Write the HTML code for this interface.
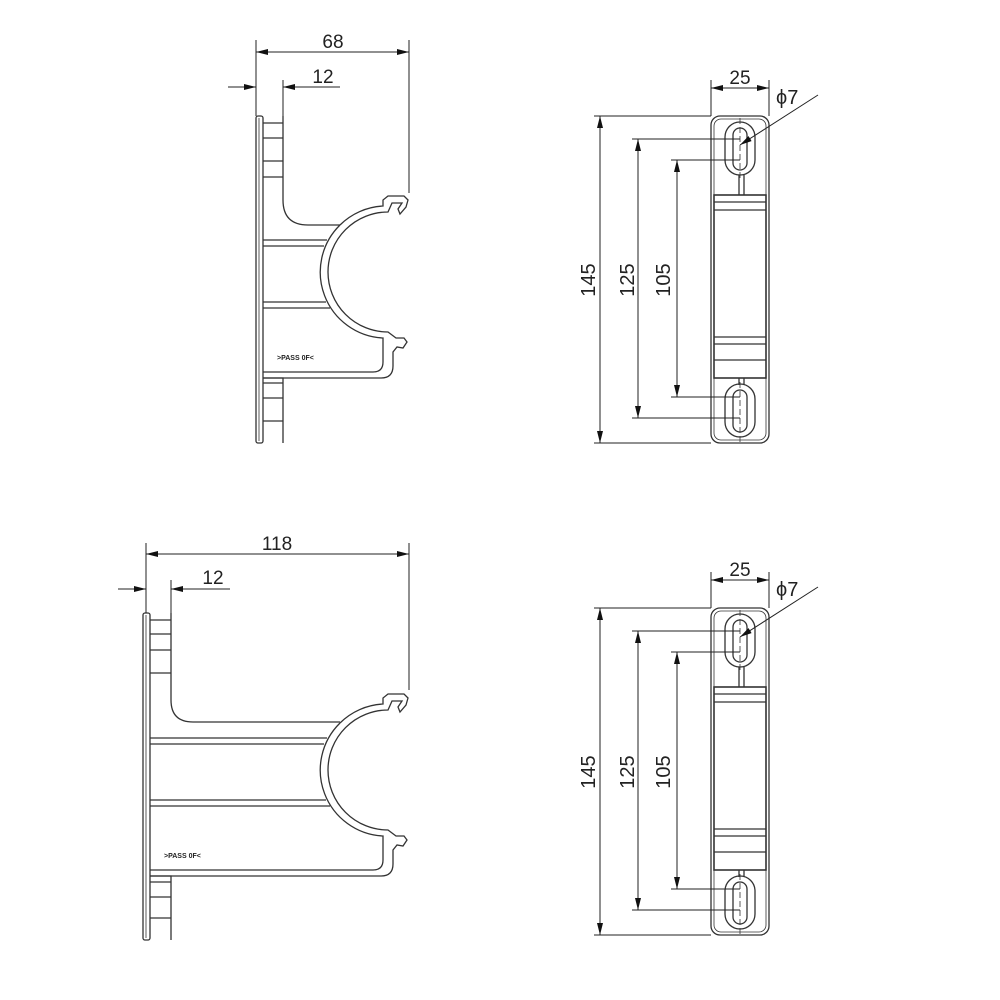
<!DOCTYPE html>
<html><head><meta charset="utf-8"><style>
html,body{margin:0;padding:0;background:#fff;}
svg{display:block;}
text{font-family:"Liberation Sans",sans-serif;fill:#222;}
</style></head><body>
<svg width="1000" height="1000" viewBox="0 0 1000 1000" xmlns="http://www.w3.org/2000/svg">
<defs>
<marker id="a" viewBox="0 0 12 6" refX="12" refY="3" markerWidth="12" markerHeight="6" markerUnits="userSpaceOnUse" orient="auto-start-reverse"><path d="M0,0 L12,3 L0,6 z" fill="#111"/></marker>
<g id="arc" fill="none" stroke="#333" stroke-width="1.3">
<path d="M-45,-47 A66 66 0 0 1 -2,-66 L-2,-72 L3,-76 L19,-76 L23,-72 L21,-65 L15,-58 L13,-63 L17,-69 L7,-69 L3,-60 A60 60 0 0 0 3,60 L11,66 L19,66 L22,70 L18,76 L12,75 L8,80 L8,94 Q8,106 -4,106"/>
<path d="M-45,-47 A66 66 0 0 0 -2,66 L-2,90 Q-2,100 -12,100"/>
</g>
<g id="side" fill="none" stroke="#333" stroke-width="1.3">
<rect x="711" y="116" width="58" height="327" rx="9"/>
<rect x="714" y="119" width="52" height="321" rx="7" stroke-width="0.8"/>
<rect x="725" y="122" width="30" height="53" rx="15"/>
<rect x="733" y="128" width="14" height="42" rx="7"/>
<path d="M739,175 V195 M744,175 V195"/>
<rect x="714" y="195" width="52" height="183" stroke-width="1.6"/>
<path d="M714,202 H766 M714,210 H766 M714,337 H766 M714,344 H766 M714,360 H766"/>
<path d="M739,378 V385 M744,378 V385"/>
<rect x="725" y="384" width="30" height="53" rx="15"/>
<rect x="733" y="390" width="14" height="42" rx="7"/>
<path d="M740,118 V180 M740,382 V442" stroke-dasharray="6,3" stroke-width="0.8"/>
</g>
</defs>

<!-- TOP LEFT BRACKET -->
<g fill="none" stroke="#333" stroke-width="1.3">
<rect x="256" y="116" width="7" height="327" rx="2"/>
<line x1="259" y1="118" x2="259" y2="441" stroke-width="0.8"/>
<path d="M263,123 H283 M263,138 H283 M263,161 H283 M263,177 H283"/>
<path d="M283,116 V200 Q283,225 308,225 L340,225"/>
<path d="M263,240 H327 M263,246 H324 M263,302 H326 M263,308 H330"/>
<path d="M263,372 H373 M263,378 H381"/>
<path d="M263,378 H283 V443 M263,383 H283 M263,398 H283 M263,421 H283"/>
</g>
<use href="#arc" x="385" y="272"/>
<text x="277" y="360" font-size="7" font-weight="bold">&gt;PASS 0F&lt;</text>

<!-- top left dims -->
<g stroke="#222" stroke-width="1" fill="none">
<path d="M256,40 V116 M409,40 V193 M283,80 V116"/>
<line x1="256" y1="52" x2="409" y2="52" marker-start="url(#a)" marker-end="url(#a)"/>
<line x1="228" y1="87" x2="256" y2="87" marker-end="url(#a)"/>
<line x1="340" y1="87" x2="283" y2="87" marker-end="url(#a)"/>
</g>
<text x="333" y="48" font-size="19" text-anchor="middle">68</text>
<text x="323" y="83" font-size="19" text-anchor="middle">12</text>

<!-- BOTTOM LEFT BRACKET -->
<g fill="none" stroke="#333" stroke-width="1.3">
<rect x="143" y="613" width="7" height="327" rx="2"/>
<line x1="146" y1="615" x2="146" y2="938" stroke-width="0.8"/>
<path d="M150,620 H171 M150,634 H171 M150,650 H171 M150,673 H171"/>
<path d="M171,613 V700 Q171,722 193,722 L340,722"/>
<path d="M150,738 H327 M150,744 H324 M150,800 H326 M150,806 H330"/>
<path d="M150,870 H373 M150,876 H381"/>
<path d="M150,876 H171 V940 M150,882 H171 M150,897 H171 M150,918 H171"/>
</g>
<use href="#arc" x="385" y="770"/>
<text x="164" y="858" font-size="7" font-weight="bold">&gt;PASS 0F&lt;</text>

<g stroke="#222" stroke-width="1" fill="none">
<path d="M146,543 V613 M409,543 V690 M171,580 V613"/>
<line x1="146" y1="554" x2="409" y2="554" marker-start="url(#a)" marker-end="url(#a)"/>
<line x1="118" y1="589" x2="146" y2="589" marker-end="url(#a)"/>
<line x1="230" y1="589" x2="171" y2="589" marker-end="url(#a)"/>
</g>
<text x="277" y="550" font-size="19" text-anchor="middle">118</text>
<text x="213" y="584" font-size="19" text-anchor="middle">12</text>

<!-- RIGHT VIEWS -->
<use href="#side"/>
<use href="#side" y="492"/>

<g id="rd" stroke="#222" stroke-width="1" fill="none">
<path d="M594,116 H711 M594,443 H711 M632,139 H740 M632,418 H740 M671,160 H740 M671,397 H740"/>
<line x1="600" y1="116" x2="600" y2="443" marker-start="url(#a)" marker-end="url(#a)"/>
<line x1="638" y1="139" x2="638" y2="418" marker-start="url(#a)" marker-end="url(#a)"/>
<line x1="677" y1="160" x2="677" y2="397" marker-start="url(#a)" marker-end="url(#a)"/>
<path d="M711,80 V116 M769,80 V116"/>
<line x1="711" y1="88" x2="769" y2="88" marker-start="url(#a)" marker-end="url(#a)"/>
<line x1="818" y1="95" x2="740" y2="145" marker-end="url(#a)"/>
</g>
<text x="740" y="84" font-size="19" text-anchor="middle">25</text>
<text x="776" y="104" font-size="20">ϕ7</text>
<text transform="translate(595,280) rotate(-90)" font-size="20" text-anchor="middle">145</text>
<text transform="translate(634,280) rotate(-90)" font-size="20" text-anchor="middle">125</text>
<text transform="translate(670,280) rotate(-90)" font-size="20" text-anchor="middle">105</text>

<g transform="translate(0,492)">
<g stroke="#222" stroke-width="1" fill="none">
<path d="M594,116 H711 M594,443 H711 M632,139 H740 M632,418 H740 M671,160 H740 M671,397 H740"/>
<line x1="600" y1="116" x2="600" y2="443" marker-start="url(#a)" marker-end="url(#a)"/>
<line x1="638" y1="139" x2="638" y2="418" marker-start="url(#a)" marker-end="url(#a)"/>
<line x1="677" y1="160" x2="677" y2="397" marker-start="url(#a)" marker-end="url(#a)"/>
<path d="M711,80 V116 M769,80 V116"/>
<line x1="711" y1="88" x2="769" y2="88" marker-start="url(#a)" marker-end="url(#a)"/>
<line x1="818" y1="95" x2="740" y2="145" marker-end="url(#a)"/>
</g>
<text x="740" y="84" font-size="19" text-anchor="middle">25</text>
<text x="776" y="104" font-size="20">ϕ7</text>
<text transform="translate(595,280) rotate(-90)" font-size="20" text-anchor="middle">145</text>
<text transform="translate(634,280) rotate(-90)" font-size="20" text-anchor="middle">125</text>
<text transform="translate(670,280) rotate(-90)" font-size="20" text-anchor="middle">105</text>
</g>
</svg>
</body></html>
